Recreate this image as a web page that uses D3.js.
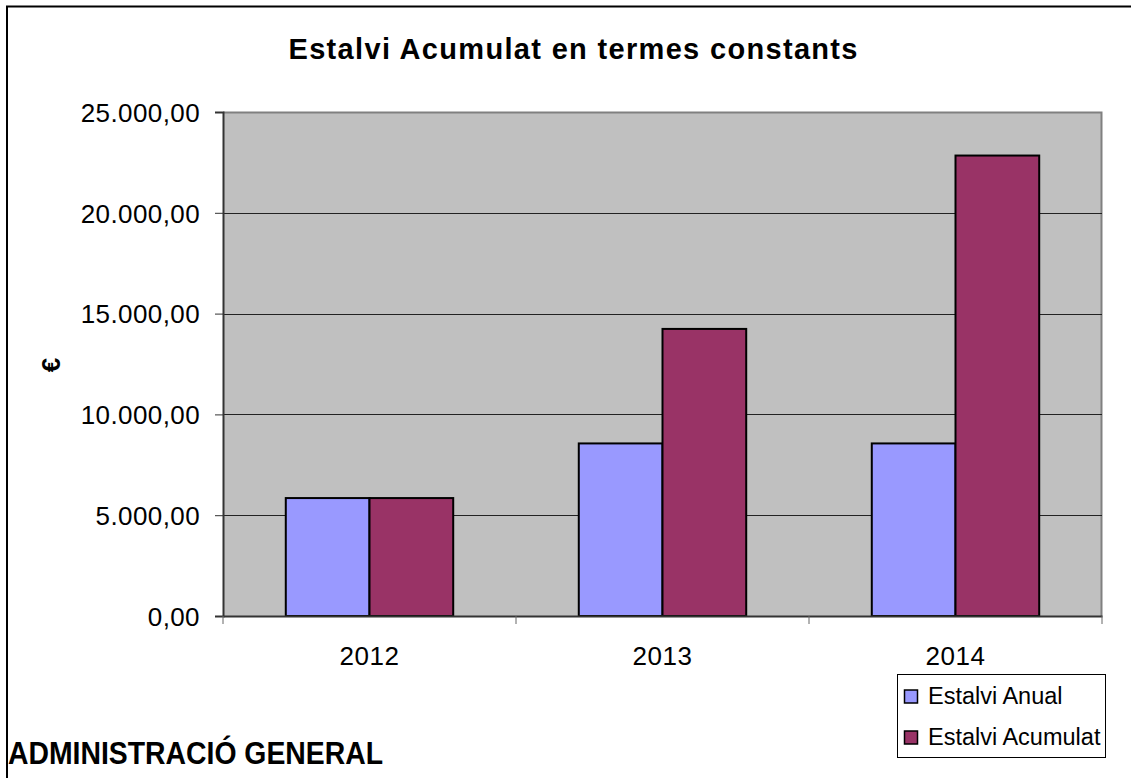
<!DOCTYPE html>
<html>
<head>
<meta charset="utf-8">
<script src="https://cdn.jsdelivr.net/npm/d3@7"></script>
<style>
  body { margin: 0; background: #fff; }
  svg { display: block; font-family: Arial, "Liberation Sans", sans-serif; }
</style>
</head>
<body>
<div id="chart-container"></div>
<script>
const years = ["2012", "2013", "2014"];
const seriesNames = ["Estalvi Anual", "Estalvi Acumulat"];
const anual = [5850, 8560, 8560];
const acumulat = [5850, 14240, 22840];
const yTicks = [0, 5000, 10000, 15000, 20000, 25000];
const colors = ["#9999ff", "#993366"];

const W = 1131, H = 778;
const plot = { left: 223, top: 112, right: 1102, bottom: 616 };
const FONT = "Arial, 'Liberation Sans', sans-serif";

const svg = d3.select("#chart-container")
  .append("svg")
  .attr("width", W)
  .attr("height", H);

// outer chart frame (only top and left fall inside the picture)
svg.append("path")
  .attr("d", `M7,${H} V6.5 H${W}`)
  .attr("fill", "none")
  .attr("stroke", "#000")
  .attr("stroke-width", 2);

const x = d3.scaleBand()
  .domain(years)
  .range([plot.left, plot.right]);

const inner = d3.scaleBand()
  .domain(seriesNames)
  .range([0, x.bandwidth()])
  .paddingOuter(0.75);

const y = d3.scaleLinear()
  .domain([0, 25000])
  .range([plot.bottom, plot.top]);

const fmt = v => d3.format(",.2f")(v).replace(/,/g, "X").replace(".", ",").replace(/X/g, ".");

// plot background
svg.append("rect")
  .attr("x", plot.left).attr("y", plot.top)
  .attr("width", plot.right - plot.left)
  .attr("height", plot.bottom - plot.top)
  .attr("fill", "#c0c0c0");

svg.append("path")
  .attr("d", `M${plot.left},${plot.top + 0.5} H${plot.right - 0.5} V${plot.bottom}`)
  .attr("fill", "none")
  .attr("stroke", "#808080")
  .attr("stroke-width", 2);

// gridlines
svg.append("g")
  .selectAll("line")
  .data(yTicks.filter(d => d > 0 && d < 25000))
  .join("line")
  .attr("x1", plot.left).attr("x2", plot.right)
  .attr("y1", d => Math.round(y(d)) + 0.5)
  .attr("y2", d => Math.round(y(d)) + 0.5)
  .attr("stroke", "#222")
  .attr("stroke-width", 1);

// bars
const rows = years.map((yr, i) => ({ year: yr, values: [anual[i], acumulat[i]] }));

svg.append("g")
  .selectAll("g")
  .data(rows)
  .join("g")
  .attr("transform", d => `translate(${x(d.year)},0)`)
  .selectAll("rect")
  .data(d => d.values.map((v, j) => ({ name: seriesNames[j], value: v, j })))
  .join("rect")
  .attr("x", d => inner(d.name))
  .attr("y", d => y(d.value))
  .attr("width", inner.bandwidth())
  .attr("height", d => y(0) - y(d.value))
  .attr("fill", d => colors[d.j])
  .attr("stroke", "#000")
  .attr("stroke-width", 2);

// y axis
const yAxis = svg.append("g")
  .attr("transform", `translate(${plot.left},0)`)
  .call(d3.axisLeft(y).tickValues(yTicks).tickSize(8).tickFormat(fmt));
yAxis.select(".domain").attr("stroke", "#333").attr("stroke-width", 2);
yAxis.selectAll(".tick line").attr("stroke", "#333");
yAxis.selectAll("text")
  .attr("x", -23)
  .attr("dy", "0.36em")
  .attr("font-size", 26)
  .attr("letter-spacing", 0.4)
  .attr("font-family", FONT)
  .attr("fill", "#000");

// x axis
const xAxis = svg.append("g")
  .attr("transform", `translate(0,${plot.bottom})`)
  .call(d3.axisBottom(x).tickSize(0));
xAxis.select(".domain").attr("stroke", "#333").attr("stroke-width", 2);
xAxis.selectAll("text")
  .attr("y", 49)
  .attr("dy", 0)
  .attr("font-size", 26)
  .attr("letter-spacing", 0.6)
  .attr("font-family", FONT)
  .attr("fill", "#000");

svg.append("g")
  .selectAll("line")
  .data(years.concat(["end"]))
  .join("line")
  .attr("x1", (d, i) => plot.left + i * x.bandwidth())
  .attr("x2", (d, i) => plot.left + i * x.bandwidth())
  .attr("y1", plot.bottom)
  .attr("y2", plot.bottom + 8)
  .attr("stroke", "#666");

// title
svg.append("text")
  .attr("x", 573).attr("y", 59)
  .attr("text-anchor", "middle")
  .attr("font-size", 29)
  .attr("font-weight", "bold")
  .attr("textLength", 569)
  .attr("lengthAdjust", "spacing")
  .text("Estalvi Acumulat en termes constants");

// y axis label
svg.append("text")
  .attr("transform", "translate(60,365) rotate(-90)")
  .attr("text-anchor", "middle")
  .attr("font-size", 26)
  .attr("font-weight", "bold")
  .text("€");

// legend
const legend = svg.append("g").attr("transform", "translate(897,674)");
legend.append("rect")
  .attr("x", 0.5).attr("y", 0.5)
  .attr("width", 208).attr("height", 83)
  .attr("fill", "#fff")
  .attr("stroke", "#000");

seriesNames.forEach((name, i) => {
  const g = legend.append("g").attr("transform", `translate(0,${22.5 + i * 41})`);
  g.append("rect")
    .attr("x", 7.5).attr("y", -6.5)
    .attr("width", 13).attr("height", 13)
    .attr("fill", colors[i])
    .attr("stroke", "#000")
    .attr("stroke-width", 1.5);
  g.append("text")
    .attr("x", 31).attr("y", 7.5)
    .attr("font-size", 23.5)
    .text(name);
});

// footer label
svg.append("text")
  .attr("x", 8).attr("y", 764)
  .attr("font-size", 31)
  .attr("font-weight", "bold")
  .attr("textLength", 375)
  .attr("lengthAdjust", "spacingAndGlyphs")
  .text("ADMINISTRACIÓ GENERAL");
</script>
</body>
</html>
